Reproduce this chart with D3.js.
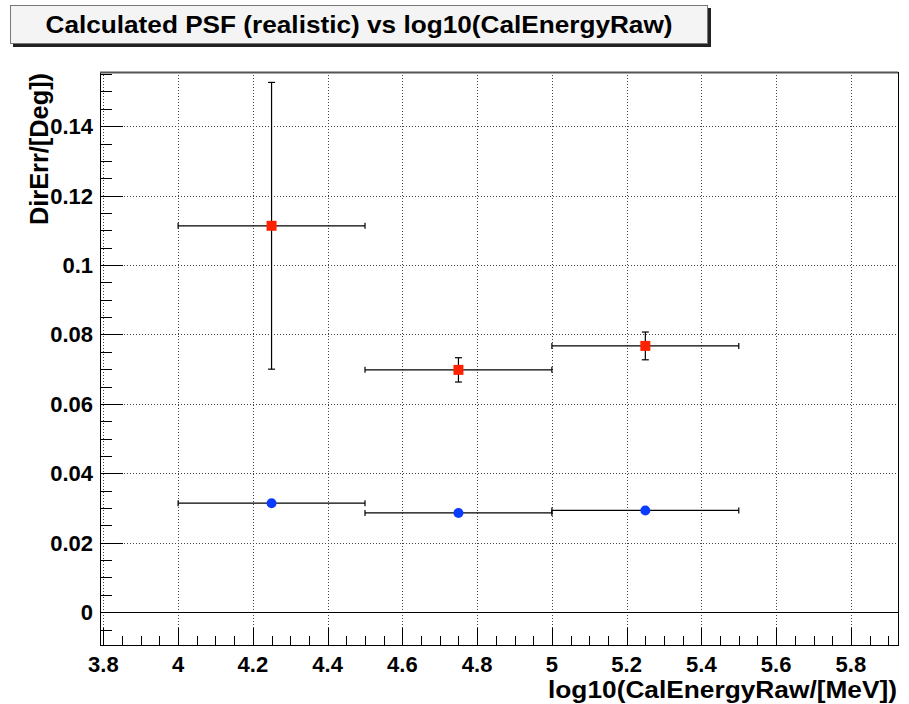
<!DOCTYPE html>
<html>
<head>
<meta charset="utf-8">
<script src="https://cdn.jsdelivr.net/npm/d3@7"></script>
<style>
  body { margin: 0; background: #fff; }
  text { font-family: "Liberation Sans", Arial, sans-serif; font-weight: bold; fill: #000; }
</style>
</head>
<body>
<svg id="chart"></svg>
<script>
const chartWidth = 909;
const chartHeight = 704;
const frame = {left: 100, right: 898, top: 72, bottom: 645};

const TITLE = "Calculated PSF (realistic) vs log10(CalEnergyRaw)";
const X_LABEL = "log10(CalEnergyRaw/[MeV])";
const Y_LABEL = "DirErr/[Deg])";

// bin centres and half widths
const binCenters = [4.25, 4.75, 5.25];
const binHalfWidths = [0.25, 0.25, 0.25];

// red squares
const redValues = [0.1113, 0.0698, 0.0767];
const redErrors = [0.0413, 0.0035, 0.0040];

// blue circles
const blueValues = [0.0314, 0.0286, 0.0293];
const blueErrors = [0.0004, 0.0004, 0.0004];

const xTicks = [3.8, 4, 4.2, 4.4, 4.6, 4.8, 5, 5.2, 5.4, 5.6, 5.8];
const yTicks = [0, 0.02, 0.04, 0.06, 0.08, 0.1, 0.12, 0.14];

const X_MIN = 3.791, X_MAX = 5.926;
const Y_MIN = -0.00945, Y_MAX = 0.1556;

let xScale = d3.scaleLinear().domain([X_MIN, X_MAX]).range([frame.left, frame.right]);
let yScale = d3.scaleLinear().domain([Y_MIN, Y_MAX]).range([frame.bottom, frame.top]);

let svg = d3.select("#chart")
    .attr("width", chartWidth)
    .attr("height", chartHeight);

// title box
svg.append("rect")
    .attr("x", 13).attr("y", 8).attr("width", 698).attr("height", 39)
    .attr("fill", "#222");
svg.append("rect")
    .attr("x", 10.5).attr("y", 5.5).attr("width", 697).attr("height", 38)
    .attr("fill", "#f4f4f4")
    .attr("stroke", "#777");
svg.append("text")
    .attr("x", 359).attr("y", 33)
    .attr("text-anchor", "middle")
    .attr("font-size", 24)
    .attr("textLength", 627)
    .attr("lengthAdjust", "spacingAndGlyphs")
    .text(TITLE);

// grid
let gridG = svg.append("g")
    .attr("stroke", "#444")
    .attr("stroke-width", 1)
    .attr("stroke-dasharray", "1,2");
gridG.selectAll(".vgrid").data(xTicks).join("line")
    .attr("x1", d => Math.round(xScale(d)) + 0.5)
    .attr("x2", d => Math.round(xScale(d)) + 0.5)
    .attr("y1", frame.top).attr("y2", frame.bottom);
gridG.selectAll(".hgrid").data(yTicks).join("line")
    .attr("y1", d => Math.round(yScale(d)) + 0.5)
    .attr("y2", d => Math.round(yScale(d)) + 0.5)
    .attr("x1", frame.left).attr("x2", frame.right);

// zero line
svg.append("line")
    .attr("x1", frame.left).attr("x2", frame.right)
    .attr("y1", Math.round(yScale(0)) + 0.5).attr("y2", Math.round(yScale(0)) + 0.5)
    .attr("stroke", "#000");

// frame
svg.append("rect")
    .attr("x", frame.left + 0.5).attr("y", frame.top + 0.5)
    .attr("width", frame.right - frame.left).attr("height", frame.bottom - frame.top)
    .attr("fill", "none")
    .attr("stroke", "#000");
svg.append("line")
    .attr("x1", frame.left).attr("x2", frame.right)
    .attr("y1", frame.top + 0.5).attr("y2", frame.top + 0.5)
    .attr("stroke", "#555").attr("stroke-width", 2);

// x axis ticks (inside, pointing up)
let xMinor = d3.range(76, 119).map(i => i * 0.05).filter(v => v >= X_MIN && v <= X_MAX);
let xAxisG = svg.append("g").attr("stroke", "#000");
xAxisG.selectAll("line").data(xMinor).join("line")
    .attr("x1", d => Math.round(xScale(d)) + 0.5)
    .attr("x2", d => Math.round(xScale(d)) + 0.5)
    .attr("y1", frame.bottom)
    .attr("y2", d => frame.bottom - (Math.abs(d * 5 - Math.round(d * 5)) < 1e-6 ? 17 : 9));
svg.selectAll(".xlabel").data(xTicks).join("text")
    .attr("class", "xlabel")
    .attr("x", d => xScale(d))
    .attr("y", 672)
    .attr("text-anchor", "middle")
    .attr("font-size", 22)
    .text(d => d3.format("")(d));

// y axis ticks (inside, pointing right)
let yMinor = d3.range(-1, 32).map(i => i * 0.005).filter(v => v >= Y_MIN && v <= Y_MAX);
let yAxisG = svg.append("g").attr("stroke", "#000");
yAxisG.selectAll("line").data(yMinor).join("line")
    .attr("y1", d => Math.round(yScale(d)) + 0.5)
    .attr("y2", d => Math.round(yScale(d)) + 0.5)
    .attr("x1", frame.left)
    .attr("x2", d => frame.left + (Math.abs(d * 50 - Math.round(d * 50)) < 1e-6 ? 23 : 12));
svg.selectAll(".ylabel").data(yTicks).join("text")
    .attr("class", "ylabel")
    .attr("x", 93)
    .attr("y", d => yScale(d) + 8)
    .attr("text-anchor", "end")
    .attr("font-size", 22)
    .text(d => d3.format("")(d));

// axis titles
svg.append("text")
    .attr("x", 897).attr("y", 698)
    .attr("text-anchor", "end")
    .attr("font-size", 24)
    .attr("textLength", 349)
    .attr("lengthAdjust", "spacingAndGlyphs")
    .text(X_LABEL);
svg.append("text")
    .attr("transform", "translate(48,73) rotate(-90)")
    .attr("text-anchor", "end")
    .attr("font-size", 26)
    .attr("textLength", 152)
    .attr("lengthAdjust", "spacingAndGlyphs")
    .text(Y_LABEL);

// error bars and markers
function drawSeries(values, errors, shape, color) {
    let points = binCenters.map((c, i) => ({x: c, dx: binHalfWidths[i], y: values[i], dy: errors[i]}));
    let g = svg.append("g").attr("stroke", "#000").attr("stroke-width", 1.2);
    for (let p of points) {
        let cx = xScale(p.x), cy = yScale(p.y);
        let x0 = xScale(p.x - p.dx), x1 = xScale(p.x + p.dx);
        let y0 = yScale(p.y - p.dy), y1 = yScale(p.y + p.dy);
        g.append("line").attr("x1", x0).attr("x2", x1).attr("y1", cy).attr("y2", cy);
        g.append("line").attr("x1", x0).attr("x2", x0).attr("y1", cy - 3).attr("y2", cy + 3);
        g.append("line").attr("x1", x1).attr("x2", x1).attr("y1", cy - 3).attr("y2", cy + 3);
        if (y0 - y1 > 10) {
            g.append("line").attr("x1", cx).attr("x2", cx).attr("y1", y0).attr("y2", y1);
            g.append("line").attr("x1", cx - 3.5).attr("x2", cx + 3.5).attr("y1", y0).attr("y2", y0);
            g.append("line").attr("x1", cx - 3.5).attr("x2", cx + 3.5).attr("y1", y1).attr("y2", y1);
        }
    }
    svg.append("g").selectAll("path").data(points).join("path")
        .attr("transform", d => `translate(${xScale(d.x)}, ${yScale(d.y)})`)
        .attr("d", shape === "square" ? "M-5,-5H5V5H-5Z" : d3.symbol(d3.symbolCircle, 78)())
        .attr("fill", color);
}

drawSeries(redValues, redErrors, "square", "#ff2200");
drawSeries(blueValues, blueErrors, "circle", "#0a3cff");
</script>
</body>
</html>
